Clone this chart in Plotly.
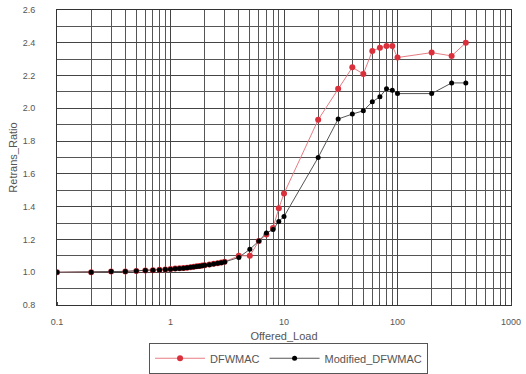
import plotly.graph_objects as go

loads = [0.1, 0.2, 0.3, 0.4, 0.5, 0.6, 0.7, 0.8, 0.9, 1.0,
         1.1, 1.2, 1.3, 1.4, 1.5, 1.6, 1.7, 1.8, 1.9, 2.0,
         2.2, 2.4, 2.6, 2.8, 3.0,
         4, 5, 6, 7, 8, 9, 10,
         20, 30, 40, 50, 60, 70, 80, 90, 100,
         200, 300, 400]

dfwmac = [1.000, 1.000, 1.004, 1.005, 1.008, 1.010, 1.012, 1.015, 1.017, 1.020,
          1.022, 1.024, 1.026, 1.028, 1.031, 1.033, 1.036, 1.038, 1.041, 1.043,
          1.047, 1.051, 1.055, 1.059, 1.064,
          1.10, 1.10, 1.19, 1.23, 1.27, 1.39, 1.48,
          1.93, 2.12, 2.25, 2.21, 2.35, 2.37, 2.38, 2.38, 2.31,
          2.34, 2.32, 2.40]

modified = [1.000, 1.000, 1.004, 1.005, 1.008, 1.010, 1.012, 1.014, 1.016, 1.018,
            1.021, 1.023, 1.025, 1.027, 1.030, 1.032, 1.035, 1.037, 1.040, 1.042,
            1.046, 1.050, 1.054, 1.058, 1.063,
            1.09, 1.14, 1.19, 1.24, 1.26, 1.31, 1.34,
            1.70, 1.935, 1.965, 1.985, 2.04, 2.07, 2.12, 2.11, 2.09,
            2.09, 2.155, 2.155]

x_ticks = [0.1, 1, 10, 100, 1000]
x_tick_labels = ["0.1", "1", "10", "100", "1000"]

tick_font = dict(family="Liberation Sans, Arial, sans-serif", size=9, color="#555")
title_font = dict(family="Liberation Sans, Arial, sans-serif", size=11, color="#555")
legend_font = dict(family="Liberation Sans, Arial, sans-serif", size=11, color="#555")

fig = go.Figure()
fig.add_trace(go.Scatter(
    x=loads, y=dfwmac, name="DFWMAC", mode="lines+markers",
    line=dict(color="#e87c84", width=1),
    marker=dict(color="#d9303c", size=6, symbol="circle"),
))
fig.add_trace(go.Scatter(
    x=loads, y=modified, name="Modified_DFWMAC", mode="lines+markers",
    line=dict(color="#555555", width=1),
    marker=dict(color="#000000", size=5, symbol="circle"),
))

fig.update_layout(
    width=526, height=374,
    margin=dict(l=57, r=15, t=10, b=69, autoexpand=False),
    paper_bgcolor="white", plot_bgcolor="white",
    font=tick_font,
    showlegend=True,
    legend=dict(orientation="h", x=0.51, xanchor="center", y=-0.128, yanchor="top",
                bordercolor="#555", borderwidth=1, font=legend_font,
                itemwidth=50, tracegroupgap=0),
)
fig.update_xaxes(
    type="log", range=[-1, 3], automargin=False,
    tickvals=x_ticks, ticktext=x_tick_labels,
    showgrid=True, gridcolor="#444", gridwidth=1,
    minor=dict(showgrid=True, gridcolor="#555", gridwidth=1, dtick="D1",
               ticks="inside", ticklen=3, tickcolor="#444"),
    ticks="outside", ticklen=8, tickcolor="rgba(0,0,0,0)",
    showline=True, linecolor="#333", linewidth=1, mirror=True,
    zeroline=False, tickfont=tick_font,
    title=dict(text="Offered_Load", standoff=6, font=title_font),
)
fig.update_yaxes(
    range=[0.8, 2.6], dtick=0.2, tick0=0.8, tickformat=".1f", automargin=False,
    showgrid=True, gridcolor="#444", gridwidth=1,
    minor=dict(showgrid=True, gridcolor="#555", gridwidth=1, dtick=0.1),
    ticks="outside", ticklen=19, tickcolor="rgba(0,0,0,0)",
    showline=True, linecolor="#333", linewidth=1, mirror=True,
    zeroline=False, tickfont=tick_font,
    title=dict(text="Retrans_Ratio", standoff=2, font=title_font),
)

fig.write_html("out.html", config={"displayModeBar": False},
               post_script="document.body.style.margin='0';")
